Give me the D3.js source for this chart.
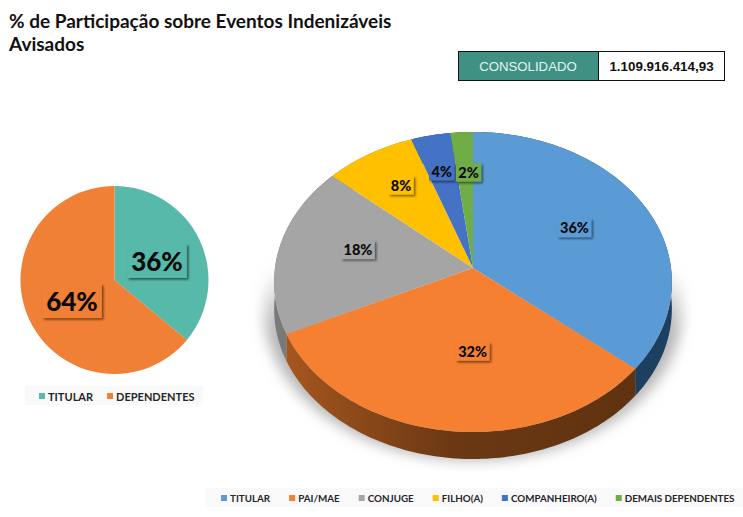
<!DOCTYPE html>
<html><head><meta charset="utf-8">
<script src="https://cdn.jsdelivr.net/npm/d3@7"></script>
<style>html,body{margin:0;padding:0;background:#fff}svg{display:block}</style>
</head><body><svg id="c" width="743" height="517"></svg>
<script>
const titleLines = ["% de Participação sobre Eventos Indenizáveis", "Avisados"];
const headerLabel = "CONSOLIDADO";
const headerValue = "1.109.916.414,93";
const leftCategories = ["TITULAR", "DEPENDENTES"];
const leftValues = [36, 64];
const leftColors = ["#57b9a9", "#f08035"];
const rightCategories = ["TITULAR", "PAI/MAE", "CONJUGE", "FILHO(A)", "COMPANHEIRO(A)", "DEMAIS DEPENDENTES"];
const rightValues = [36, 32, 18.4, 8.1, 3.5, 2];
const rightColors = ["#5b9bd5", "#f58031", "#a5a5a5", "#ffc000", "#4472c4", "#70ad47"];

// layout (not data)
const labelNudge = [[5,-6],[14,-2],[-8,-7],[-13,-18],[-7,-21],[2,-18]];
const P = {cx:473, cy:268, rx:198, A:148.7, k:0.0933, depth:27};
const FONT = "Lato, 'Open Sans', sans-serif";

const svg = d3.select("#c");
const defs = svg.append("defs");

// title
svg.append("g").selectAll("text").data(titleLines).join("text")
  .attr("x", 9).attr("y", (d,i)=>28+i*23)
  .attr("font-family", FONT).attr("font-weight", 700).attr("font-size", 19).attr("fill", "#111")
  .text(d=>d);

// header box
svg.append("rect").attr("x",458.5).attr("y",51.5).attr("width",266).attr("height",29).attr("fill","#fff").attr("stroke","#111");
svg.append("rect").attr("x",458.5).attr("y",51.5).attr("width",140).attr("height",29).attr("fill","#3f9184").attr("stroke","#111");
svg.append("text").attr("x",528).attr("y",71).attr("text-anchor","middle").attr("font-family","'Liberation Sans'").attr("font-size",13.2).attr("fill","#e4f3ef").text(headerLabel);
svg.append("text").attr("x",661.5).attr("y",71).attr("text-anchor","middle").attr("font-family","'Liberation Sans'").attr("font-weight",700).attr("font-size",13.4).attr("fill","#111").text(headerValue);

// label shadow filter
const f = defs.append("filter").attr("id","ls").attr("x","-30%").attr("y","-30%").attr("width","170%").attr("height","170%");
f.append("feDropShadow").attr("dx",1.6).attr("dy",1.6).attr("stdDeviation",1).attr("flood-color","#000").attr("flood-opacity",.55);

function label(g, x, y, txt, size, fill, padX, padY){
  const rect = g.append("rect").attr("fill",fill).attr("filter","url(#ls)");
  const t = g.append("text").attr("x",x).attr("y",y).attr("text-anchor","middle").attr("dominant-baseline","central")
    .attr("font-family",FONT).attr("font-weight",900).attr("font-size",size).attr("fill","#0b0b0b").text(txt);
  const b = t.node().getBBox();
  rect.attr("x",b.x-padX).attr("y",y-size*.5-padY).attr("width",b.width+2*padX).attr("height",size+2*padY);
}

// left flat pie
const pie = d3.pie().sort(null);
const leftR = 94;
const leftArc = d3.arc().innerRadius(0).outerRadius(leftR);
const gl = svg.append("g").attr("transform","translate(114.5,280)");
const leftArcs = pie(leftValues);
gl.selectAll("path").data(leftArcs).join("path").attr("d",leftArc).attr("fill",(d,i)=>leftColors[i]);
leftArcs.forEach((d,i)=>{
  const c = leftArc.centroid(d);
  label(gl, c[0], c[1]+1, d.value+"%", 26, leftColors[i], 4, 4);
});

// perspective projection of a pie angle onto the tilted disc
function proj(a, f=1){
  const u = Math.sin(a)*f, v = -Math.cos(a)*f, den = 1-P.k*v;
  return [P.cx + P.rx*u/den, P.cy + P.A*v/den];
}
function arcPoints(a0,a1){
  const n = Math.max(2, Math.ceil((a1-a0)/0.02));
  return d3.range(n+1).map(i=>proj(a0+(a1-a0)*i/n));
}
const line = d3.line();
const rightArcs = pie(rightValues);

// ground shadow: wide soft silhouette fading in towards the top
const blur = defs.append("filter").attr("id","gs").attr("filterUnits","userSpaceOnUse")
  .attr("x",200).attr("y",100).attr("width",543).attr("height",417);
blur.append("feGaussianBlur").attr("stdDeviation",7);
const sg = defs.append("linearGradient").attr("id","sg").attr("gradientUnits","userSpaceOnUse").attr("x1",0).attr("x2",0).attr("y1",265).attr("y2",330);
sg.append("stop").attr("offset",0).attr("stop-color","#b4b4b4").attr("stop-opacity",0);
sg.append("stop").attr("offset",1).attr("stop-color","#b4b4b4").attr("stop-opacity",1);
defs.append("clipPath").attr("id","sc").append("rect").attr("x",240).attr("y",240).attr("width",470).attr("height",231);
const full = arcPoints(0, 2*Math.PI).map(p=>[P.cx+(p[0]-P.cx)*1.05, p[1]+28]);
svg.append("g").attr("clip-path","url(#sc)")
  .append("path").attr("d",line(full)+"Z").attr("fill","url(#sg)").attr("filter","url(#gs)");

// side walls
const wallStops = [
  [["0","#20405f"],["1","#1d3f60"]],
  [["0","#a9581f"],["0.45","#6b3813"],["1","#5e3110"]],
  [["0","#7a7a7a"],["1","#5f5f5f"]],
  [["0","#888"],["1","#888"]],
  [["0","#2a4475"],["1","#2a4475"]],
  [["0","#436829"],["1","#436829"]]
];
wallStops.forEach((stops,i)=>{
  const lg = defs.append("linearGradient").attr("id","w"+i).attr("gradientUnits","userSpaceOnUse")
    .attr("x1",P.cx-P.rx).attr("x2",P.cx+P.rx).attr("y1",0).attr("y2",0);
  lg.selectAll("stop").data(stops).join("stop").attr("offset",d=>d[0]).attr("stop-color",d=>d[1]);
});
const g3 = svg.append("g");
g3.selectAll("path.wall").data(rightArcs).join("path").attr("class","wall")
  .attr("d",d=>{
    const top = arcPoints(d.startAngle,d.endAngle);
    const bot = top.map(p=>[p[0],p[1]+P.depth]).reverse();
    return line(top.concat(bot))+"Z";
  })
  .attr("fill",(d,i)=>`url(#w${i})`);

// top faces
g3.selectAll("path.face").data(rightArcs).join("path").attr("class","face")
  .attr("d",d=>line([[P.cx,P.cy]].concat(arcPoints(d.startAngle,d.endAngle)))+"Z")
  .attr("fill",(d,i)=>rightColors[i]);

// big pie labels
rightArcs.forEach((d,i)=>{
  const c = proj((d.startAngle+d.endAngle)/2, .55);
  label(g3, c[0]+labelNudge[i][0], c[1]+labelNudge[i][1], Math.round(d.value)+"%", 14.5, rightColors[i], 2.5, 2);
});

// legends
function legend(x0, y, w, x, cats, cols, size, gap){
  const g = svg.append("g");
  g.append("rect").attr("x",x0).attr("y",y-10).attr("width",w).attr("height",19).attr("fill","#f9f9f9");
  let cur = x;
  cats.forEach((c,i)=>{
    g.append("rect").attr("x",cur).attr("y",y-3).attr("width",6).attr("height",6).attr("fill",cols[i]);
    const t = g.append("text").attr("x",cur+9).attr("y",y).attr("dominant-baseline","central")
      .attr("font-family",FONT).attr("font-weight",700).attr("font-size",size).attr("fill","#262626").text(c);
    cur += 9 + t.node().getComputedTextLength() + gap;
  });
}
legend(25, 396, 178, 39, leftCategories, leftColors, 11, 14);
legend(205, 498, 538, 221, rightCategories, rightColors, 9.8, 19);
</script></body></html>
